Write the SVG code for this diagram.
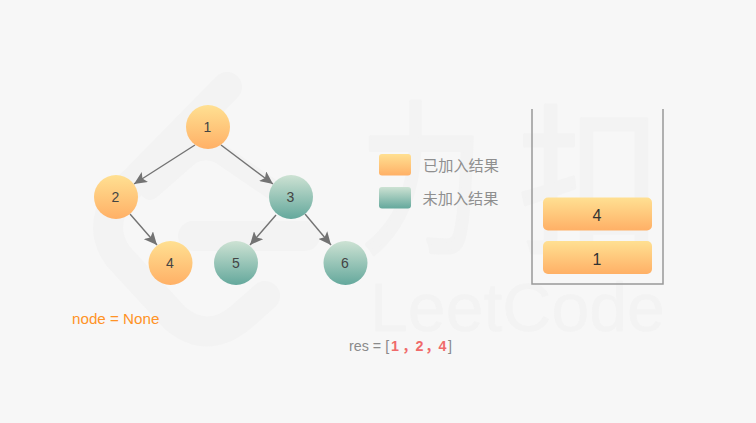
<svg xmlns="http://www.w3.org/2000/svg" width="756" height="423" viewBox="0 0 756 423">
<defs>
<linearGradient id="o" x1="0" y1="0" x2="0" y2="1"><stop offset="0" stop-color="#ffe092"/><stop offset="1" stop-color="#ffb066"/></linearGradient>
<linearGradient id="g" x1="0" y1="0" x2="0" y2="1"><stop offset="0" stop-color="#cde2d3"/><stop offset="1" stop-color="#64a89c"/></linearGradient>
<marker id="a" markerUnits="userSpaceOnUse" markerWidth="14" markerHeight="12" refX="13" refY="6" orient="auto"><path d="M0 0L13 6L0 12L3 6Z" fill="#737373"/></marker>
</defs>
<style>
.n{font:14px "Liberation Sans",Arial,sans-serif;fill:#444;text-anchor:middle}
.s{font:16px "Liberation Sans",Arial,sans-serif;fill:#333;text-anchor:middle}
.o{fill:url(#o)}.g{fill:url(#g)}
.l{font:15.2px "Noto Sans CJK SC",sans-serif;fill:#8f8f8f}
.e{fill:none;stroke:#737373;stroke-width:1.4;marker-end:url(#a)}
.w{fill:none;stroke:#f3f3f3;stroke-linecap:round;stroke-linejoin:round}
.t{fill:#f3f3f3;stroke:#f3f3f3;stroke-linejoin:round;font-family:"Noto Sans CJK SC",sans-serif}
</style>
<rect width="756" height="423" fill="#f7f7f7"/>
<g id="watermark">
<path class="w" stroke-width="30" d="M227 87L118 198Q98 228 118 256L175 318Q207 345 240 318L265 296"/>
<path class="w" stroke-width="20" d="M150 190L190 155Q205 145 222 155L295 205"/>
<path class="w" stroke-width="30" d="M193 236H305"/>
<text class="t" font-size="165" stroke-width="4" transform="translate(360 240) scale(.75 1)">力</text>
<text class="t" font-size="160" stroke-width="3" transform="translate(518 240) scale(.9 1)">扣</text>
<text class="t" x="370" y="331" font-size="68" stroke-width="0.500" style="font-family:'Liberation Sans',sans-serif">LeetCode</text>
</g>
<g id="connectors">
<line class="e" x1="195" y1="145" x2="134" y2="184"/>
<line class="e" x1="221" y1="145" x2="273" y2="184"/>
<line class="e" x1="130" y1="214" x2="157" y2="245"/>
<line class="e" x1="276" y1="215" x2="250" y2="245"/>
<line class="e" x1="305" y1="214" x2="331" y2="245"/>
</g>
<g id="node-1"><circle class="o" cx="208" cy="127" r="22"/><text class="n" x="207.500" y="132">1</text></g>
<g id="node-2"><circle class="o" cx="116" cy="197" r="22"/><text class="n" x="115.500" y="202">2</text></g>
<g id="node-3"><circle class="g" cx="291" cy="197" r="22"/><text class="n" x="290.500" y="202">3</text></g>
<g id="node-4"><circle class="o" cx="170.500" cy="263" r="22"/><text class="n" x="170" y="268">4</text></g>
<g id="node-5"><circle class="g" cx="236" cy="263" r="22"/><text class="n" x="236" y="268">5</text></g>
<g id="node-6"><circle class="g" cx="345.500" cy="263" r="22"/><text class="n" x="345" y="268">6</text></g>
<g id="legend-done"><rect class="o" x="379" y="154" width="32" height="21.500" rx="3"/><text class="l" x="423" y="171">已加入结果</text></g>
<g id="legend-todo"><rect class="g" x="379" y="187" width="32" height="21.500" rx="3"/><text class="l" x="422.500" y="204">未加入结果</text></g>
<g id="stack"><path d="M532 109V284H663V109" fill="none" stroke="#999" stroke-width="1.500"/></g>
<g id="stack-4"><rect class="o" x="543" y="197.500" width="109" height="33" rx="5"/><text class="s" x="597" y="220.500">4</text></g>
<g id="stack-1"><rect class="o" x="543" y="241" width="109" height="33" rx="5"/><text class="s" x="597" y="264.500">1</text></g>
<text id="node-label" x="72" y="324" font-family="Liberation Sans,sans-serif" font-size="15.200" fill="#ff9326">node = None</text>
<text id="res-label" y="351" font-family="Liberation Sans,Noto Sans CJK SC,sans-serif" font-size="14.300" fill="#8a8a8a"><tspan x="349">res = [</tspan><tspan font-weight="bold" fill="#f06a6a"><tspan x="391">1</tspan><tspan x="402">，</tspan><tspan x="415.500">2</tspan><tspan x="425">，</tspan><tspan x="438.500">4</tspan></tspan><tspan x="448">]</tspan></text>
</svg>
